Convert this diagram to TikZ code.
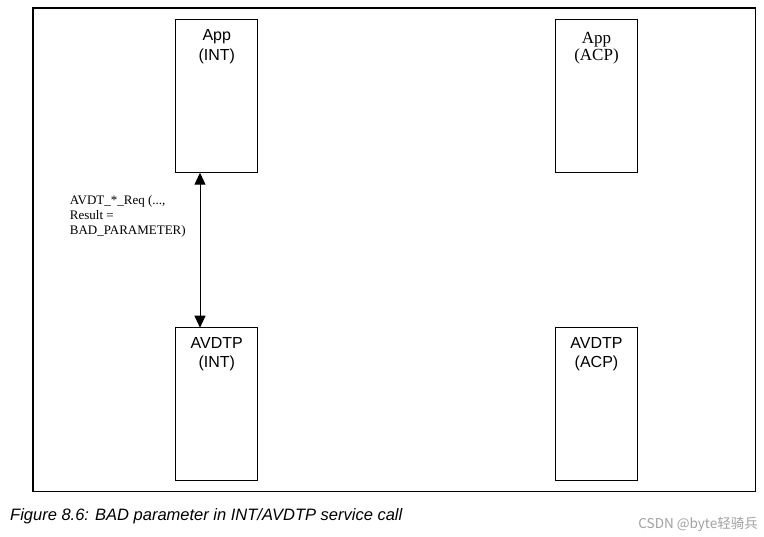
\documentclass[tikz,border=0pt]{standalone}
\usepackage{fontspec}
\setmainfont{Liberation Sans}
\newfontfamily\timesfont{Liberation Serif}
\newfontfamily\cjk{Noto Sans CJK SC}
\usetikzlibrary{arrows.meta,positioning}
\definecolor{ink}{HTML}{000000}
\definecolor{mark}{HTML}{A0A0A0}

\begin{document}
\begin{tikzpicture}[x=1pt,y=-1pt,
  unit/.style={draw=ink, line width=1pt, minimum width=81.7pt, minimum height=152.7pt, inner sep=0pt},
  utext/.style={anchor=north, inner sep=0pt, align=center, font=\fontsize{16}{19.4}\selectfont},
  ttext/.style={anchor=north, inner sep=0pt, align=center, font=\timesfont\fontsize{17}{17.4}\selectfont},
  call/.style={arrows={Triangle[width=11pt,length=12pt]-Triangle[width=11pt,length=12pt]}, line width=1pt, draw=ink}]
\useasboundingbox (0,0) rectangle (764,537);
\draw[ink, line width=1.2pt] (33,8) rectangle (755.7,491.7);
% layer boxes
\node[unit] (appint) at (216.8,96.3) {};
\node[unit] (appacp) at (596.5,96.3) {};
\node[unit] (avint) at (216.8,404) {};
\node[unit] (avacp) at (596.5,404) {};
\node[utext, below=10pt of appint.north] (appintlbl) {App\\(INT)};
\node[ttext, below=12.5pt of appacp.north] (appacplbl) {App\\(ACP)};
\node[utext, below=10pt of avint.north] (avintlbl) {AVDTP\\(INT)};
\node[utext, below=10pt of avacp.north] (avacplbl) {AVDTP\\(ACP)};
% service call
\coordinate (up) at (200,172.7);
\coordinate (dn) at (200,327.7);
\draw[call] (up) -- (dn);
\node[anchor=north west, inner sep=0pt, align=left, font=\timesfont\fontsize{13}{15}\selectfont] (req) at (69.7,195) {AVDT\_*\_Req (...,\\Result =\\BAD\_PARAMETER)};
% caption
\node[anchor=base west, inner sep=0pt, font=\itshape\fontsize{16.5}{18}\selectfont] (cap) at (10,520.5) {Figure 8.6: BAD parameter in INT/AVDTP service call};
\node[anchor=base east, inner sep=0pt, text=mark, font=\cjk\fontsize{13.5}{15}\selectfont] (wm) at (758,529) {CSDN @byte轻骑兵};
\end{tikzpicture}
\end{document}
